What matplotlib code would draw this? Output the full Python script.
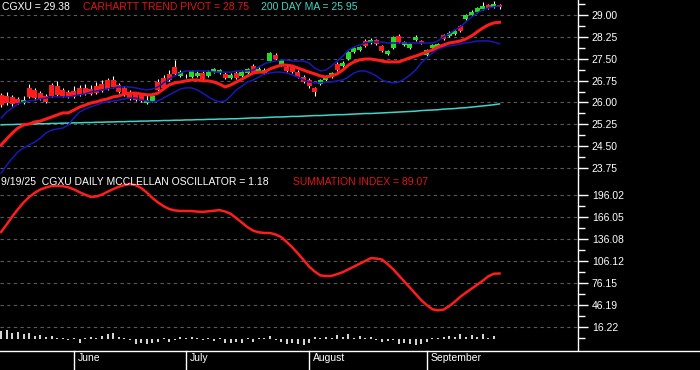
import matplotlib
matplotlib.use('Agg')
import matplotlib.pyplot as plt
from matplotlib.lines import Line2D
import numpy as np

# daily bars, mid-May .. 19 Sep 2025
opens = [26.26, 26.22, 26.19, 26.12, 25.98, 26.50, 26.43, 26.32, 26.22, 26.60,
         26.56, 26.43, 26.36, 26.39, 26.50, 26.50, 26.46, 26.56, 26.63, 26.77,
         26.77, 26.60, 26.50, 26.36, 26.29, 26.26, 25.98, 26.05, 26.70, 26.84,
         26.98, 27.22, 26.91, 26.89, 26.87, 26.91, 27.01, 26.91, 27.04, 27.01,
         26.98, 26.84, 27.01, 26.91, 27.01, 27.25, 27.08, 27.01, 27.42, 27.63,
         27.28, 27.22, 27.22, 27.04, 26.87, 26.77, 26.50, 26.63, 26.77, 26.87,
         27.32, 27.25, 27.49, 27.73, 27.80, 28.11, 28.04, 28.14, 27.94, 27.66,
         27.87, 28.28, 27.97, 27.87, 28.14, 28.11, 27.63, 27.87, 27.90, 28.31,
         28.28, 28.35, 28.62, 28.86, 29.00, 29.10, 29.21, 29.34, 29.28, 29.34]
highs = [26.32, 26.36, 26.26, 26.19, 26.22, 26.63, 26.50, 26.39, 26.29, 26.67,
         26.74, 26.50, 26.43, 26.56, 26.60, 26.63, 26.60, 26.70, 26.77, 26.84,
         26.91, 26.67, 26.56, 26.43, 26.36, 26.32, 26.26, 26.32, 26.80, 26.94,
         27.11, 27.46, 27.11, 26.98, 27.11, 27.08, 27.08, 27.11, 27.18, 27.15,
         27.04, 27.01, 27.08, 27.11, 27.18, 27.32, 27.22, 27.18, 27.73, 27.70,
         27.49, 27.28, 27.25, 27.11, 26.94, 26.84, 26.53, 26.80, 26.94, 27.04,
         27.39, 27.42, 27.77, 27.90, 27.94, 28.18, 28.21, 28.18, 27.97, 27.80,
         28.28, 28.35, 28.11, 28.04, 28.31, 28.14, 27.83, 28.01, 28.04, 28.35,
         28.45, 28.49, 28.66, 29.03, 29.17, 29.28, 29.45, 29.38, 29.48, 29.38]
lows = [25.84, 25.91, 25.88, 25.95, 25.95, 26.15, 26.08, 26.08, 25.98, 26.19,
        26.22, 26.19, 26.15, 26.15, 26.22, 26.26, 26.26, 26.29, 26.36, 26.43,
        26.50, 26.32, 26.22, 26.08, 26.05, 26.02, 25.95, 26.02, 26.39, 26.46,
        26.74, 26.94, 26.87, 26.84, 26.84, 26.87, 26.77, 26.87, 27.01, 26.98,
        26.80, 26.80, 26.80, 26.87, 26.98, 27.01, 27.04, 26.98, 27.39, 27.46,
        27.25, 27.04, 27.01, 26.84, 26.67, 26.50, 26.22, 26.60, 26.74, 26.84,
        27.08, 27.22, 27.46, 27.70, 27.77, 27.90, 28.01, 27.97, 27.73, 27.63,
        27.83, 28.04, 27.94, 27.83, 28.11, 28.01, 27.59, 27.83, 27.87, 28.14,
        28.25, 28.31, 28.42, 28.83, 28.97, 29.07, 29.17, 29.21, 29.24, 29.21]
closes = [25.91, 25.98, 25.95, 25.98, 26.08, 26.19, 26.15, 26.12, 26.02, 26.22,
          26.26, 26.22, 26.19, 26.19, 26.26, 26.29, 26.29, 26.32, 26.39, 26.46,
          26.53, 26.36, 26.26, 26.12, 26.08, 26.05, 26.08, 26.22, 26.43, 26.50,
          26.77, 26.98, 27.04, 26.91, 27.08, 27.01, 26.80, 27.04, 27.15, 27.11,
          26.84, 26.94, 26.84, 27.04, 27.15, 27.04, 27.15, 27.11, 27.70, 27.49,
          27.46, 27.08, 27.04, 26.87, 26.70, 26.56, 26.36, 26.77, 26.87, 27.01,
          27.11, 27.35, 27.73, 27.87, 27.90, 27.94, 28.14, 28.01, 27.77, 27.77,
          28.25, 28.07, 28.07, 28.01, 28.25, 28.04, 27.80, 27.97, 28.01, 28.18,
          28.38, 28.45, 28.45, 29.00, 29.10, 29.24, 29.31, 29.24, 29.38, 29.28]

pivot = [24.54, 24.75, 24.95, 25.12, 25.23, 25.26, 25.33, 25.36, 25.43, 25.50,
         25.57, 25.64, 25.64, 25.74, 25.84, 25.91, 25.98, 26.02, 26.08, 26.12,
         26.19, 26.22, 26.29, 26.32, 26.32, 26.29, 26.26, 26.26, 26.32, 26.46,
         26.60, 26.67, 26.70, 26.74, 26.77, 26.77, 26.74, 26.74, 26.70, 26.63,
         26.53, 26.60, 26.70, 26.80, 26.91, 27.01, 27.04, 27.04, 27.15, 27.22,
         27.28, 27.28, 27.25, 27.18, 27.11, 27.04, 26.98, 26.91, 26.87, 26.91,
         26.98, 27.11, 27.28, 27.39, 27.46, 27.49, 27.49, 27.46, 27.42, 27.39,
         27.39, 27.39, 27.46, 27.53, 27.59, 27.66, 27.73, 27.80, 27.90, 27.97,
         28.04, 28.07, 28.11, 28.18, 28.28, 28.42, 28.55, 28.66, 28.73, 28.75]
band_upper = [25.47, 25.67, 25.81, 25.95, 26.02, 26.05, 26.08, 26.12, 26.15, 26.19,
              26.19, 26.19, 26.19, 26.22, 26.26, 26.29, 26.36, 26.39, 26.43, 26.46,
              26.50, 26.53, 26.53, 26.53, 26.50, 26.46, 26.43, 26.46, 26.53, 26.67,
              26.80, 26.91, 27.01, 27.08, 27.08, 27.08, 27.08, 27.08, 27.04, 27.04,
              27.04, 27.04, 27.08, 27.08, 27.08, 27.11, 27.22, 27.32, 27.39, 27.42,
              27.46, 27.46, 27.42, 27.42, 27.42, 27.35, 27.18, 27.08, 27.11, 27.25,
              27.42, 27.59, 27.80, 27.90, 27.97, 28.04, 28.07, 28.07, 28.07, 28.04,
              28.04, 28.04, 28.04, 28.04, 28.04, 28.04, 28.04, 28.04, 28.11, 28.25,
              28.35, 28.49, 28.59, 28.76, 28.93, 29.07, 29.17, 29.24, 29.28, 29.31]
band_lower = [23.58, 23.85, 24.09, 24.30, 24.44, 24.54, 24.64, 24.78, 24.95, 25.05,
              25.09, 25.12, 25.23, 25.47, 25.67, 25.77, 25.84, 25.91, 25.98, 26.02,
              26.05, 26.08, 26.12, 26.15, 26.15, 26.08, 26.05, 26.02, 26.05, 26.15,
              26.26, 26.36, 26.46, 26.50, 26.50, 26.43, 26.32, 26.19, 26.08, 26.02,
              26.05, 26.22, 26.43, 26.56, 26.70, 26.77, 26.87, 26.98, 27.01, 27.04,
              27.04, 27.01, 26.94, 26.87, 26.77, 26.70, 26.67, 26.67, 26.70, 26.70,
              26.74, 26.77, 26.87, 27.01, 27.08, 27.08, 27.01, 26.91, 26.77, 26.70,
              26.67, 26.70, 26.80, 26.94, 27.11, 27.35, 27.53, 27.70, 27.83, 27.90,
              27.94, 27.97, 28.01, 28.04, 28.07, 28.11, 28.11, 28.11, 28.07, 28.01]
ma200 = [25.23, 25.24, 25.24, 25.25, 25.25, 25.26, 25.26, 25.27, 25.27, 25.28,
         25.28, 25.29, 25.29, 25.30, 25.30, 25.31, 25.31, 25.32, 25.32, 25.33,
         25.33, 25.34, 25.34, 25.35, 25.35, 25.36, 25.36, 25.37, 25.37, 25.38,
         25.38, 25.39, 25.39, 25.40, 25.40, 25.41, 25.41, 25.42, 25.42, 25.43,
         25.43, 25.44, 25.44, 25.45, 25.46, 25.47, 25.47, 25.48, 25.49, 25.50,
         25.50, 25.51, 25.52, 25.52, 25.53, 25.54, 25.55, 25.55, 25.56, 25.57,
         25.58, 25.58, 25.59, 25.60, 25.61, 25.62, 25.62, 25.63, 25.64, 25.65,
         25.66, 25.67, 25.68, 25.69, 25.70, 25.72, 25.73, 25.74, 25.75, 25.77,
         25.78, 25.79, 25.81, 25.82, 25.84, 25.86, 25.88, 25.90, 25.92, 25.95]

summation = [145.6, 156.0, 166.8, 176.7, 185.7, 193.3, 199.0, 203.5, 206.2, 208.3,
             208.5, 208.0, 206.5, 203.7, 199.8, 196.5, 193.5, 194.0, 196.5, 200.5,
             204.0, 207.2, 209.5, 210.8, 209.5, 205.6, 199.5, 192.0, 186.0, 180.8,
             177.0, 175.0, 174.3, 174.2, 174.2, 173.4, 173.0, 173.8, 174.6, 175.4,
             173.5, 170.4, 164.5, 158.4, 152.2, 147.5, 145.2, 144.3, 144.3, 142.3,
             138.8, 132.0, 124.7, 116.3, 107.6, 98.5, 91.8, 86.5, 85.7, 85.8,
             88.2, 90.9, 94.7, 98.5, 102.3, 106.1, 110.0, 109.5, 108.1, 102.0,
             95.0, 86.6, 78.2, 69.8, 61.4, 53.0, 46.1, 40.4, 38.9, 39.9,
             44.6, 50.6, 57.4, 63.0, 68.4, 73.7, 79.2, 85.3, 88.8, 89.07]
oscillator = [24, 27, 18, 21, 15, 18, 9, 12, 6, 9,
              3, 3, -3, 3, -12, 3, 6, 3, 9, 15,
              18, 6, 3, -3, -15, -12, -15, -12, -9, 3,
              -9, -3, 6, 3, 6, 3, -3, 3, -6, 3,
              -12, -12, -9, -12, 3, -9, 3, 3, 9, -3,
              -9, -15, -12, -15, -18, -12, 6, 3, 6, 3,
              12, 6, 15, 3, 9, 3, 6, -3, -9, -6,
              -3, -15, -12, -15, -18, -15, -9, 3, 3, 6,
              9, 6, 15, 6, 12, 6, 15, 3, 9, 1.18]

month_names = ['June', 'July', 'August', 'September']
month_start = [13, 33, 55, 76]

price_ticks = [29.00, 28.25, 27.50, 26.75, 26.00, 25.25, 24.50, 23.75]
summ_ticks = [196.02, 166.05, 136.08, 106.12, 76.15, 46.19, 16.22]

W, H = 700, 370
FONT = 'Liberation Sans'
RED = '#ff1c1c'
GREEN = '#22dd22'
BLUE = '#1818b8'
CYAN = '#3fd6c8'
GRID = '#5a5a5a'

fig = plt.figure(figsize=(W / 100, H / 100), dpi=100, facecolor='black')
ax1 = fig.add_axes([0, 1 - 175 / H, 578 / W, 175 / H])
ax2 = fig.add_axes([0, 1 - 350 / H, 578 / W, 175 / H])
# oscillator histogram gets its own scale, laid over the summation panel
ax3 = fig.add_axes([0, 1 - 350 / H, 578 / W, 175 / H], facecolor='none')

x = np.arange(len(closes))
xlim = (-0.2, -0.2 + 578 / 5.6)


def style(ax, ticks, minors, ylim):
    ax.set_facecolor('black')
    ax.set_xlim(*xlim)
    ax.set_ylim(*ylim)
    ax.set_xticks([])
    ax.yaxis.tick_right()
    ax.set_yticks(ticks)
    ax.set_yticklabels(['%.2f' % t for t in ticks])
    ax.set_yticks(minors, minor=True)
    ax.tick_params(axis='y', which='major', colors='white', length=7, width=1,
                   labelsize=7.5, pad=3)
    ax.tick_params(axis='y', which='minor', colors='white', length=5, width=1)
    for lab in ax.get_yticklabels():
        lab.set_family(FONT)
    for s in ['left', 'top', 'bottom']:
        ax.spines[s].set_visible(False)
    ax.spines['right'].set_color('white')
    ax.spines['right'].set_linewidth(1)
    for t in ticks:
        ax.axhline(t, color=GRID, lw=0.8, ls=(0, (3, 3)), zorder=0)


# ---- price panel ----
style(ax1, price_ticks,
      [29.375] + [t - 0.375 for t in price_ticks[:-1]],
      (23.51, 29.515))
ax1.axhline(23.52, color=GRID, lw=0.8, ls=(0, (3, 3)), zorder=0)

o = np.array(opens)
c = np.array(closes)
up = c >= o
ax1.vlines(x, lows, highs, color='white', lw=0.8, zorder=2)
ax1.bar(x, np.maximum(np.abs(c - o), 0.03), bottom=np.minimum(o, c), width=0.9,
        color=np.where(up, GREEN, RED), linewidth=0, zorder=3)

ax1.plot(x, ma200, color=CYAN, lw=1.1, zorder=4)
ax1.plot(x, band_upper, color=BLUE, lw=1.1, zorder=4)
ax1.plot(x, band_lower, color=BLUE, lw=1.1, zorder=4)
ax1.plot(x, pivot, color=RED, lw=2.2, zorder=5)

# ---- summation / oscillator panel ----
style(ax2, summ_ticks,
      [t - 14.985 for t in summ_ticks],
      (-15.11, 223.26))
ax2.plot(x, summation, color=RED, lw=1.8, zorder=4)

ax3.set_xlim(*xlim)
ax3.set_ylim(-33, 492)
ax3.axis('off')
ax3.vlines(x, 0, oscillator, color='white', lw=1.2)


# ---- header texts ----
def label(px, py, s, color):
    fig.text(px / W, 1 - py / H, s, color=color, fontsize=7.5, family=FONT,
             ha='left', va='center')


label(2, 7, 'CGXU = 29.38', 'white')
label(83, 7, 'CARHARTT TREND PIVOT = 28.75', '#e01414')
label(261, 7, '200 DAY MA = 25.95', CYAN)
label(1, 182, '9/19/25  CGXU DAILY MCCLELLAN OSCILLATOR = 1.18', 'white')
label(293, 182, 'SUMMATION INDEX = 89.07', '#e01414')

# ---- date strip ----
fig.add_artist(Line2D([0, 1], [1 - 350.5 / H] * 2, color='white', lw=1))
to_fig = lambda i: (i - xlim[0]) / (xlim[1] - xlim[0]) * 578 / W
for name, i in zip(month_names, month_start):
    fx = to_fig(i)
    fig.add_artist(Line2D([fx, fx], [0, 1 - 350.5 / H], color='white', lw=1))
    fig.text(fx + 4 / W, 1 - 358 / H, name, color='white', fontsize=7.5,
             family=FONT, ha='left', va='center')

fig.savefig('out.png', dpi=100, facecolor='black')
